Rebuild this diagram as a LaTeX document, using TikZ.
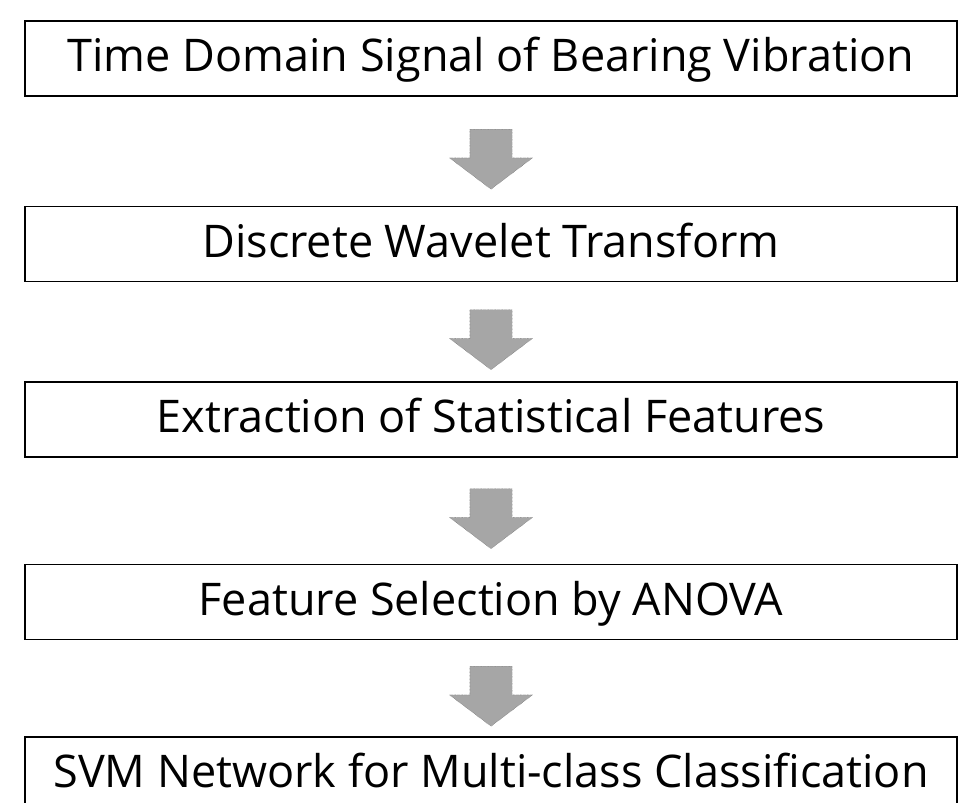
\documentclass[tikz,border=0pt]{standalone}
\usepackage{fontspec}
\setmainfont{Open Sans}
\usetikzlibrary{shapes.arrows,calc}

\tikzset{
  stagebox/.style={draw, line width=1.2pt, minimum width=932pt, minimum height=75pt,
    inner sep=0pt, text height=34pt, text depth=8pt,
    font=\fontsize{45}{50}\selectfont},
  flowarrow/.style={single arrow, shape border rotate=270, draw=black!65, densely dotted,
    fill=black!35, inner xsep=21pt, inner ysep=0pt, single arrow head extend=20.5pt,
    single arrow tip angle=106, minimum height=60pt}
}

\begin{document}
\begin{tikzpicture}[x=1pt,y=-1pt]
\useasboundingbox (0,0) rectangle (959,803);

% processing stages
\node[stagebox] (signal)   at (491,58.5)  {Time Domain Signal of Bearing Vibration};
\node[stagebox] (dwt)      at (491,244)   {Discrete Wavelet Transform};
\node[stagebox] (features) at (491,419.5) {Extraction of Statistical Features};
\node[stagebox] (anova)    at (491,602)   {Feature Selection by ANOVA};
\node[stagebox] (svm)      at (491,774.5) {SVM Network for Multi-class Classification};

% block arrows between the stages
\node[flowarrow] (a1) at ($(signal.south)!0.5!(dwt.north)$) {};
\node[flowarrow] (a2) at ($(dwt.south)!0.5!(features.north)$) {};
\node[flowarrow] (a3) at ($(features.south)!0.5!(anova.north)$) {};
\node[flowarrow] (a4) at ($(anova.south)!0.5!(svm.north)$) {};
\end{tikzpicture}
\end{document}
